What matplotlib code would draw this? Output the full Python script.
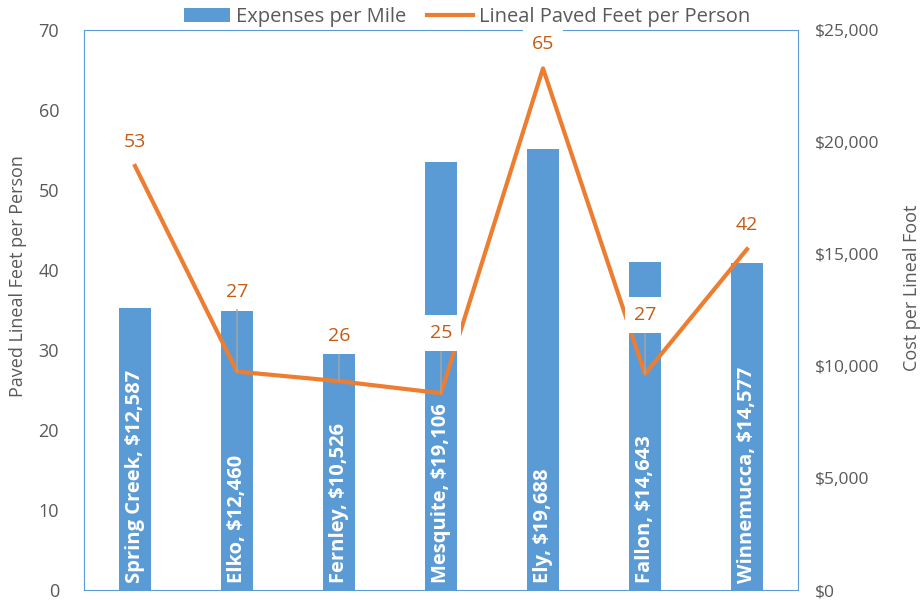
import matplotlib
matplotlib.use('Agg')
import matplotlib.pyplot as plt
from matplotlib.ticker import FuncFormatter

plt.rcParams['font.family'] = ['Open Sans', 'DejaVu Sans']

cities = ['Spring Creek', 'Elko', 'Fernley', 'Mesquite', 'Ely', 'Fallon', 'Winnemucca']
cost_per_foot = [12587, 12460, 10526, 19106, 19688, 14643, 14577]
feet_per_person = [53, 27.3, 26.1, 24.6, 65.2, 27.0, 42.6]
point_labels = ['53', '27', '26', '25', '65', '27', '42']
# label offset in pixels above the point, and whether a leader line is drawn
label_offset = [24, 80, 45, 60, 24, 59, 24]
leader = [False, True, True, True, False, True, False]

blue = '#5B9BD5'
orange = '#ED7D31'
label_col = '#C55A11'
gray = '#595959'

fig = plt.figure(figsize=(9.24, 6), dpi=100)
ax = fig.add_axes([84/924, 10/600, 714/924, 560/600])
x = list(range(len(cities)))

bars = ax.bar(x, cost_per_foot, width=0.31, color=blue, zorder=2,
              label='Expenses per Mile')
for xi, c, v in zip(x, cities, cost_per_foot):
    ax.text(xi, 320, f'{c}, ${v:,}', rotation=90, ha='center', va='bottom',
            color='white', fontsize=14.5, fontweight='bold', zorder=3)

ax.set_xlim(-0.5, len(cities) - 0.5)
ax.set_ylim(0, 25000)
ax.set_yticks(range(0, 25001, 5000))
ax.yaxis.set_major_formatter(FuncFormatter(lambda v, p: f'${int(v):,}'))
ax.set_xticks([])

ax2 = ax.twinx()
ax.yaxis.tick_right()
ax.yaxis.set_label_position('right')
ax.set_ylabel('Cost per Lineal Foot', fontsize=13, color=gray)
ax.yaxis.set_label_coords(1.147, 0.539)
ax.tick_params(axis='y', length=0, labelsize=12.5, labelcolor=gray, pad=12)

ax2.yaxis.tick_left()
ax2.yaxis.set_label_position('left')
line, = ax2.plot(x, feet_per_person, color=orange, lw=3, zorder=4,
                 label='Lineal Paved Feet per Person')
ax2.set_ylim(0, 70)
ax2.set_yticks(range(0, 71, 10))
ax2.set_ylabel('Paved Lineal Feet per Person', fontsize=13, color=gray)
ax2.yaxis.set_label_coords(-0.08, 0.56)
ax2.tick_params(axis='y', length=0, labelsize=13, labelcolor=gray, pad=18)

for xi, yv, lab, off, ld in zip(x, feet_per_person, point_labels, label_offset, leader):
    props = dict(arrowstyle='-', color='#A6A6A6', lw=1, shrinkA=0, shrinkB=0) if ld else None
    ax2.annotate(lab, (xi, yv), xytext=(0, off * 0.72), textcoords='offset points',
                 ha='center', va='center', fontsize=14, color=label_col,
                 bbox=dict(boxstyle='square,pad=0.45', fc='white', ec='none'),
                 arrowprops=props, zorder=5)

for a in (ax, ax2):
    for s in a.spines.values():
        s.set_visible(False)
for s in ax.spines.values():
    s.set_visible(True)
    s.set_color(blue)
    s.set_linestyle((0, (1, 1)))
    s.set_linewidth(0.8)

leg = fig.legend(handles=[bars, line], loc='center', bbox_to_anchor=(467/924, 1 - 17/600),
                 ncol=2, frameon=True, fontsize=14.5, handlelength=2.3,
                 columnspacing=1.0, handletextpad=0.3, borderpad=0.1)
leg.get_frame().set_edgecolor('none')
leg.get_frame().set_facecolor('white')
leg.get_frame().set_alpha(1)
for t in leg.get_texts():
    t.set_color(gray)

fig.savefig('out.png', dpi=100)
